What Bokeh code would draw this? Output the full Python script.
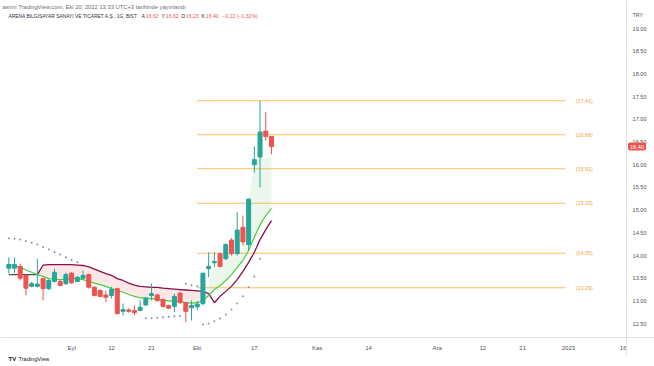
from bokeh.plotting import figure
from bokeh.models import Range1d, FixedTicker, Label, ColumnDataSource, NumeralTickFormatter
from bokeh.core.properties import value
from bokeh.embed import file_html
from bokeh.resources import INLINE

FONT = "Liberation Sans"

# ---- data (daily bars, ARENA, BIST) ----
opens  = [13.72,13.72,13.76,13.56,13.32,13.32,13.49,13.27,13.43,13.43,13.38,13.61,13.43,13.50,13.58,13.30,
          13.23,13.13,13.12,13.27,12.77,12.80,12.79,12.79,12.91,13.12,13.13,13.03,12.90,12.88,13.17,12.96,
          12.85,12.87,12.94,13.71,13.84,14.04,13.93,14.34,14.04,14.62,14.24,16.00,16.17,16.74,16.62]
highs  = [13.96,13.96,13.82,13.58,13.42,13.93,13.52,13.48,13.71,13.46,13.62,13.64,13.55,13.67,13.60,13.32,
          13.25,13.23,13.31,13.29,12.94,12.84,12.90,13.01,13.09,13.38,13.16,13.05,12.92,13.16,13.20,12.98,
          13.01,13.00,13.62,14.07,14.07,14.06,14.27,14.38,14.95,14.88,15.26,16.40,17.41,17.16,16.62]
lows   = [13.60,13.62,13.45,13.12,13.30,13.30,13.01,13.24,13.40,13.32,13.35,13.37,13.41,13.48,13.27,13.10,
          13.08,12.97,13.05,12.70,12.68,12.74,12.68,12.77,12.89,13.01,12.98,12.85,12.82,12.75,12.94,12.53,
          12.57,12.80,12.90,13.52,13.75,13.74,13.90,14.00,14.00,14.22,14.11,15.83,15.50,16.53,16.23]
closes = [13.80,13.80,13.50,13.28,13.38,13.37,13.27,13.45,13.63,13.34,13.58,13.40,13.52,13.56,13.30,13.12,
          13.10,13.08,13.25,12.72,12.81,12.77,12.74,12.86,13.06,13.16,13.01,12.88,12.84,13.10,12.96,12.77,
          12.90,12.93,13.61,13.76,13.87,13.76,14.24,14.04,14.56,14.30,15.24,16.11,16.72,16.62,16.40]

fast_ma = [13.80,13.77,13.74,13.68,13.63,13.58,13.54,13.49,13.48,13.47,13.48,13.49,13.49,13.47,13.43,13.39,
           13.36,13.32,13.27,13.23,13.19,13.14,13.10,13.07,13.06,13.05,13.03,13.01,13.00,12.99,12.99,12.96,
           12.95,12.96,13.01,13.12,13.25,13.34,13.45,13.58,13.74,13.89,14.11,14.40,14.68,14.88,15.04]
slow_ma = [13.58,13.58,13.58,13.58,13.58,13.58,13.79,13.80,13.80,13.80,13.80,13.80,13.79,13.78,13.75,13.70,
           13.65,13.60,13.56,13.49,13.45,13.39,13.35,13.32,13.31,13.30,13.30,13.28,13.27,13.26,13.25,13.24,
           13.23,13.22,13.21,13.16,12.96,13.10,13.21,13.32,13.47,13.65,13.85,14.07,14.35,14.57,14.77]
nan = float("nan")
sar = [14.38,14.37,14.35,14.32,14.28,14.24,14.19,14.13,14.07,14.02,13.96,13.90,13.85,nan,nan,nan,
       nan,nan,nan,nan,nan,nan,nan,nan,12.62,12.62,12.63,12.64,12.65,12.66,12.67,13.38,
       13.35,13.32,12.48,12.50,12.55,12.61,12.70,12.81,12.94,13.10,13.30,13.54,13.93,nan,nan]
trend_fill_top = [13.40,13.78,13.89,14.00,14.02,14.02,14.11,15.17,16.09,16.14,16.14,16.14]  # bars 35..46

fib_levels = [17.41, 16.66, 15.91, 15.15, 14.05, 13.29]
fib_start_bar = 33
fib_end_bar = 97.5
fib_label_bar = 99.3

tick_bars   = [11, 18, 25, 33, 43, 54, 63, 75, 83, 90, 98, 107.6]
tick_labels = ["Eyl", "12", "21", "Eki", "17", "Kas", "14", "Ara", "12", "21", "2023", "16"]
price_ticks = [12.5, 13.0, 13.5, 14.0, 14.5, 15.0, 15.5, 16.0, 16.5, 17.0, 17.5, 18.0, 18.5, 19.0]
last_price = 16.40

# chart geometry (data units)
X_RANGE = (-1.4536, 113.08)
Y_RANGE = (11.555, 19.617)
PRICE_AXIS_AT = 108.18      # bar position of the price-scale border
TIME_AXIS_AT = 12.194       # price position of the time-scale border
PRICE_AXIS_LOW = 11.797

UP, DOWN = "#26a69a", "#ef5350"

n = len(closes)
idx = list(range(n))
colors = [UP if c >= o else DOWN for o, c in zip(opens, closes)]
src = ColumnDataSource(dict(x=idx, o=opens, h=highs, l=lows, c=closes,
                            top=[max(o, c) for o, c in zip(opens, closes)],
                            bot=[min(o, c) for o, c in zip(opens, closes)],
                            col=colors))

p = figure(width=654, height=366, output_backend="svg", toolbar_location=None,
           x_range=Range1d(*X_RANGE), y_range=Range1d(*Y_RANGE),
           y_axis_location="right", min_border_left=0, min_border_top=0,
           min_border_right=0, min_border_bottom=0)
p.outline_line_color = None
p.xgrid.visible = False
p.ygrid.visible = False
p.background_fill_color = "white"
p.border_fill_color = "white"

# fills
pink_end = 36
p.varea(x=idx[5:pink_end], y1=slow_ma[5:pink_end], y2=fast_ma[5:pink_end],
        fill_color="#ef5350", fill_alpha=0.14)
p.varea(x=idx[35:], y1=fast_ma[35:], y2=trend_fill_top, fill_color="#4caf50", fill_alpha=0.11)

# fib levels
p.segment(x0=[fib_start_bar] * len(fib_levels), x1=[fib_end_bar] * len(fib_levels),
          y0=fib_levels, y1=fib_levels, line_color="#ff9800", line_alpha=0.62, line_width=1.1)
p.text(x=[fib_label_bar] * len(fib_levels), y=fib_levels,
       text=[f"({v:.2f})" for v in fib_levels], text_color="#f7a03a",
       text_font=value(FONT), text_font_size="5.4px", text_baseline="middle", text_align="left")

# moving averages
p.line(idx[:6], slow_ma[:6], line_color="#4a4a55", line_width=1.3)
p.line(idx[5:], slow_ma[5:], line_color="#880e4f", line_width=1.3)
p.line(idx, fast_ma, line_color="#45d03c", line_width=1.2)

# parabolic SAR
p.scatter(idx, sar, size=2.0, color="#8a91ad", line_color=None)

# candles
p.segment(x0="x", y0="l", x1="x", y1="h", line_color="col", line_width=1, source=src)
p.vbar(x="x", width=0.7, top="top", bottom="bot", fill_color="col", line_color="col", source=src)

# axes (drawn at fixed positions inside the canvas)
xa = p.xaxis[0]
xa.ticker = FixedTicker(ticks=tick_bars)
xa.major_label_overrides = {t: s for t, s in zip(tick_bars, tick_labels)}
xa.fixed_location = TIME_AXIS_AT
ya = p.yaxis[0]
ya.ticker = FixedTicker(ticks=price_ticks)
ya.formatter = NumeralTickFormatter(format="0.00")
ya.fixed_location = PRICE_AXIS_AT
ya.bounds = (PRICE_AXIS_LOW, Y_RANGE[1])
for ax in (xa, ya):
    ax.axis_line_color = "#e0e3eb"
    ax.major_tick_line_color = None
    ax.minor_tick_line_color = None
    ax.major_tick_out = 0
    ax.major_tick_in = 0
    ax.major_label_text_color = "#50535e"
    ax.major_label_text_font = FONT
xa.major_label_text_font_size = "6px"
xa.major_label_standoff = 8
ya.major_label_text_font_size = "5.6px"
ya.major_label_standoff = 6

H = 366
def lab(x, y_from_top, text, size, color, style="normal", **kw):
    p.add_layout(Label(x=x, y=H - y_from_top, x_units="screen", y_units="screen", text=text,
                       text_font=FONT, text_font_size=size, text_color=color,
                       text_font_style=style, text_baseline="middle", **kw))

# header texts
lab(2, 6, "asnm TradingView.com, Eki 20, 2022 13:33 UTC+3 tarihinde yayınlandı", "5.8px", "#6a6d78")
lab(8, 15.5, "ARENA BILGISAYAR SANAYI VE TICARET A.Ş., 1G, BIST", "4.9px", "#2a2e39")
ohlc_keys = ["A", "Y", "D", "K"]
ohlc_vals = [16.62, 16.62, 16.23, 16.40]
ohlc_x = [141, 161, 181, 201]
for k, v, x in zip(ohlc_keys, ohlc_vals, ohlc_x):
    lab(x, 15.5, k, "5.1px", "#2a2e39")
    lab(x + 4.3, 15.5, f"{v:.2f}", "5.1px", "#ef5350")
lab(222, 15.5, "−0.22 (−1.32%)", "5.1px", "#ef5350")

lab(632, 14, "TRY", "5.4px", "#50535e")
p.add_layout(Label(x=627.5, y=last_price, x_units="screen", y_units="data", text=f"{last_price:.2f}",
                   text_font=FONT, text_font_size="5.6px", text_color="white", text_baseline="middle",
                   background_fill_color="#ef5350", padding=2, border_radius=2))
lab(8, 358, "TV", "6px", "#131722", style="bold")
lab(18, 358, "TradingView", "5.6px", "#131722")

open("out.html", "w").write(file_html(p, INLINE))
